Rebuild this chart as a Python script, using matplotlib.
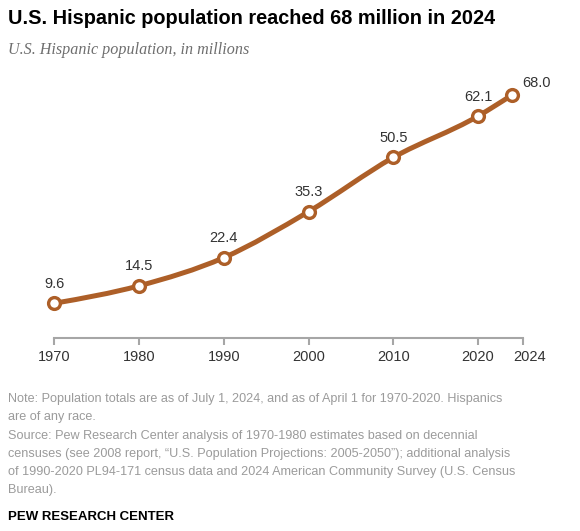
import numpy as np
import matplotlib
matplotlib.use("Agg")
import matplotlib.pyplot as plt
from matplotlib.path import Path
from matplotlib.patches import PathPatch

# Data
years = [1970, 1980, 1990, 2000, 2010, 2020, 2024]
population = [9.6, 14.5, 22.4, 35.3, 50.5, 62.1, 68.0]
tick_years = [1970, 1980, 1990, 2000, 2010, 2020]
tick_labels = ["1970", "1980", "1990", "2000", "2010", "2020"]

LINE_COLOR = "#AD5F28"
AXIS_COLOR = "#A6A6A6"
TEXT_COLOR = "#333333"
NOTE_COLOR = "#9B9B9B"

TITLE = "U.S. Hispanic population reached 68 million in 2024"
SUBTITLE = "U.S. Hispanic population, in millions"
NOTES = [
    "Note: Population totals are as of July 1, 2024, and as of April 1 for 1970-2020. Hispanics",
    "are of any race.",
    "Source: Pew Research Center analysis of 1970-1980 estimates based on decennial",
    "censuses (see 2008 report, \u201cU.S. Population Projections: 2005-2050\u201d); additional analysis",
    "of 1990-2020 PL94-171 census data and 2024 American Community Survey (U.S. Census",
    "Bureau).",
]


def monotone_path(xs, ys):
    """Bezier path like d3.curveMonotoneX"""
    xs = np.asarray(xs, float)
    ys = np.asarray(ys, float)
    n = len(xs)
    h = np.diff(xs)
    s = np.diff(ys) / h
    t = np.zeros(n)
    for i in range(1, n - 1):
        p = (s[i - 1] * h[i] + s[i] * h[i - 1]) / (h[i - 1] + h[i])
        t[i] = (np.sign(s[i - 1]) + np.sign(s[i])) * min(abs(s[i - 1]), abs(s[i]), 0.5 * abs(p))
    t[0] = (3 * s[0] - t[1]) / 2
    t[-1] = (3 * s[-1] - t[-2]) / 2
    verts = [(xs[0], ys[0])]
    codes = [Path.MOVETO]
    for i in range(n - 1):
        dx = h[i] / 3
        verts += [(xs[i] + dx, ys[i] + dx * t[i]),
                  (xs[i + 1] - dx, ys[i + 1] - dx * t[i + 1]),
                  (xs[i + 1], ys[i + 1])]
        codes += [Path.CURVE4] * 3
    return Path(verts, codes)


W, H = 580, 531
fig = plt.figure(figsize=(W / 100, H / 100), dpi=100)
fig.patch.set_facecolor("white")

x_left, x_right = 54.3, 523
y_bottom, y_top = 337.5, 87.9
ax = fig.add_axes([x_left / W, 1 - y_bottom / H, (x_right - x_left) / W, (y_bottom - y_top) / H])
ax.set_xlim(1970, 2025.3)
ax.set_ylim(0, 70)
ax.patch.set_alpha(0)

for side in ["top", "right", "left"]:
    ax.spines[side].set_visible(False)
ax.spines["bottom"].set_color(AXIS_COLOR)
ax.spines["bottom"].set_linewidth(1.5)
ax.set_yticks([])
ax.set_xticks(tick_years + [2025.3])
ax.set_xticklabels(tick_labels + [""])
ax.tick_params(axis="x", length=5, width=1.5, color=AXIS_COLOR, pad=4,
               labelsize=10.5, labelcolor=TEXT_COLOR)
for lbl in ax.get_xticklabels():
    lbl.set_fontfamily("Liberation Sans")
ax.annotate("2024", (2026.1, 0), xycoords=("data", "axes fraction"),
            xytext=(0, -9), textcoords="offset points", ha="center", va="top",
            fontsize=10.5, color=TEXT_COLOR, family="Liberation Sans",
            annotation_clip=False)

ax.add_patch(PathPatch(monotone_path(years, population), facecolor="none",
                       edgecolor=LINE_COLOR, linewidth=3.6, capstyle="round",
                       joinstyle="round", zorder=2))
ax.plot(years, population, linestyle="none", marker="o", markersize=8.5,
        markerfacecolor="white", markeredgecolor=LINE_COLOR, markeredgewidth=2.4,
        zorder=3, clip_on=False)

for i, (yr, val) in enumerate(zip(years, population)):
    if i == len(years) - 1:
        offset = (18, 9)
    else:
        offset = (0, 14)
    ax.annotate(f"{val:.1f}", (yr, val), xytext=offset, textcoords="offset points",
                ha="center", va="center", fontsize=10.5, color=TEXT_COLOR,
                family="Liberation Sans", annotation_clip=False)

# Title and subtitle
fig.text(8 / W, 1 - 19 / H, TITLE, ha="left", va="center", fontsize=14.3,
         fontweight="bold", color="black", family="Liberation Sans")
fig.text(8 / W, 1 - 50 / H, SUBTITLE, ha="left", va="center", fontsize=11.6,
         style="italic", color="#6E6E6E", family="Liberation Serif")

# Notes
note_y = [399, 417.3, 435.7, 454, 471.7, 490]
for y, line in zip(note_y, NOTES):
    fig.text(8 / W, 1 - y / H, line, ha="left", va="center", fontsize=9.1,
             color=NOTE_COLOR, family="Liberation Sans")
fig.text(8 / W, 1 - 516.7 / H, "PEW RESEARCH CENTER", ha="left", va="center",
         fontsize=9.5, fontweight="bold", color="black", family="Liberation Sans")

fig.savefig("out.png", dpi=100, facecolor="white")
